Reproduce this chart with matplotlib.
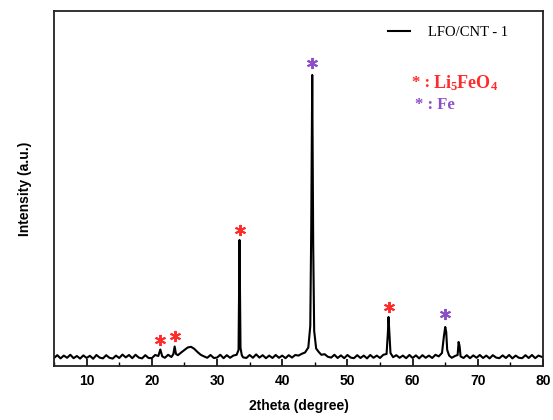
'''XRD pattern of LFO/CNT - 1'''

import numpy as np
import matplotlib
matplotlib.use('Agg')
import matplotlib.pyplot as plt

# 2theta / intensity
two_theta = [5.0, 5.5, 6.0, 6.5, 7.0, 7.5, 8.0, 8.5, 9.0, 9.5, 10.0, 10.5, 11.0, 11.5,
             12.0, 12.5, 13.0, 13.5, 14.0, 14.5, 15.0, 15.5, 16.0, 16.5, 17.0, 17.5,
             18.0, 18.5, 19.0, 19.5, 20.0, 20.5, 21.0, 21.3, 21.6, 22.0, 22.5, 23.0,
             23.3, 23.5, 23.7, 24.0, 24.5, 25.0, 25.5, 26.0, 26.5, 27.0, 27.5, 28.0,
             28.5, 29.0, 29.5, 30.0, 30.5, 31.0, 31.5, 32.0, 32.5, 33.0, 33.3, 33.45,
             33.6, 33.8, 34.0, 34.5, 35.0, 35.5, 36.0, 36.5, 37.0, 37.5, 38.0, 38.5,
             39.0, 39.5, 40.0, 40.5, 41.0, 41.5, 42.0, 42.5, 43.0, 43.5, 44.0, 44.3,
             44.45, 44.6, 44.75, 44.9, 45.2, 45.6, 46.0, 46.5, 47.0, 47.5, 48.0, 48.5,
             49.0, 49.5, 50.0, 50.5, 51.0, 51.5, 52.0, 52.5, 53.0, 53.5, 54.0, 54.5,
             55.0, 55.5, 56.0, 56.2, 56.3, 56.45, 56.6, 57.0, 57.5, 58.0, 58.5, 59.0,
             59.5, 60.0, 60.5, 61.0, 61.5, 62.0, 62.5, 63.0, 63.5, 64.0, 64.5, 64.8,
             65.0, 65.15, 65.3, 65.6, 66.0, 66.5, 66.9, 67.05, 67.2, 67.35, 67.8, 68.3,
             68.8, 69.3, 69.8, 70.3, 70.8, 71.3, 71.8, 72.3, 72.8, 73.3, 73.8, 74.3,
             74.8, 75.3, 75.8, 76.3, 76.8, 77.3, 77.8, 78.3, 78.8, 79.3, 80.0]
intensity = [80, 108, 76, 104, 82, 112, 78, 100, 74, 106, 80, 102, 72, 110,
             84, 76, 108, 82, 74, 104, 80, 114, 86, 110, 78, 112,
             84, 76, 108, 80, 78, 110, 100, 165, 96, 82, 112, 90,
             118, 195, 120, 108, 135, 160, 185, 192, 172, 140, 112, 96,
             82, 110, 80, 84, 112, 78, 108, 82, 104, 112, 160, 1260,
             180, 108, 86, 80, 110, 82, 116, 84, 108, 78, 104, 80,
             110, 82, 104, 78, 108, 84, 110, 104, 122, 135, 185, 400,
             1400, 2910, 1200, 350, 175, 140, 112, 118, 92, 84, 112, 80,
             106, 78, 110, 84, 78, 108, 80, 104, 76, 110, 82, 104,
             80, 112, 120, 330, 490, 300, 130, 88, 108, 82, 104, 78,
             110, 80, 106, 76, 108, 82, 104, 80, 112, 96, 130, 300,
             390, 340, 160, 104, 82, 100, 110, 240, 200, 96, 80, 108,
             78, 106, 82, 110, 80, 104, 76, 108, 84, 78, 106, 80,
             110, 76, 104, 82, 78, 108, 80, 110, 78, 104, 86]

# marked reflections
li5_x = [21.3, 23.6, 33.5, 56.3]
li5_y = [260, 300, 1360, 590]
fe_x = [44.6, 64.9]
fe_y = [3030, 520]

red = '#ff2a2a'
purple = '#8c4fc9'

plt.rcParams['mathtext.fontset'] = 'custom'
plt.rcParams['mathtext.rm'] = 'Liberation Serif'
plt.rcParams['mathtext.bf'] = 'Liberation Serif:bold'

fig = plt.figure(figsize=(5.53, 4.2), dpi=100)
ax = fig.add_axes([0.0977, 0.1286, 0.8843, 0.8453])

ax.plot(two_theta, intensity, color='black', linewidth=1.5, label='LFO/CNT - 1')
ax.plot(li5_x, li5_y, linestyle='none', marker=(6, 2, 0), markersize=8,
        markeredgewidth=1.4, color=red)
ax.plot(fe_x, fe_y, linestyle='none', marker=(6, 2, 0), markersize=8,
        markeredgewidth=1.4, color=purple)

ax.set_xlim(5, 80)
ax.set_ylim(0, 3550)
ax.set_xticks(np.arange(10, 81, 10))
ax.set_xticks(np.arange(5, 81, 5), minor=True)
ax.set_yticks([])
ax.tick_params(axis='x', which='both', direction='in')
ax.tick_params(axis='x', which='major', length=5, width=1.2, pad=6)
ax.tick_params(axis='x', which='minor', length=3, width=1.0)
for lbl in ax.get_xticklabels():
    lbl.set_fontfamily('Liberation Sans')
    lbl.set_fontweight('bold')
    lbl.set_fontsize(10)
for s in ax.spines.values():
    s.set_linewidth(1.3)
    s.set_color('#222222')

ax.set_xlabel('2theta (degree)', fontfamily='Liberation Sans', fontweight='bold',
              fontsize=10, labelpad=8)
ax.set_ylabel('Intensity (a.u.)', fontfamily='Liberation Sans', fontweight='bold',
              fontsize=10, labelpad=16)

ax.legend(loc='upper right', bbox_to_anchor=(0.955, 0.995), frameon=False,
          prop={'family': 'Liberation Serif', 'size': 10.5}, handlelength=1.5,
          handletextpad=1.2, borderaxespad=0.5)

ax.text(0.733, 0.797, '* : ', color=red, fontfamily='Liberation Serif',
        fontweight='bold', fontsize=12, transform=ax.transAxes, va='center')
ax.text(0.775, 0.797, r'$\mathbf{Li_5FeO_4}$', color=red, fontsize=13,
        transform=ax.transAxes, va='center')
ax.text(0.738, 0.735, '* : Fe', color=purple, fontfamily='Liberation Serif',
        fontweight='bold', fontsize=12, transform=ax.transAxes, va='center')

fig.savefig('out.png', dpi=100)
